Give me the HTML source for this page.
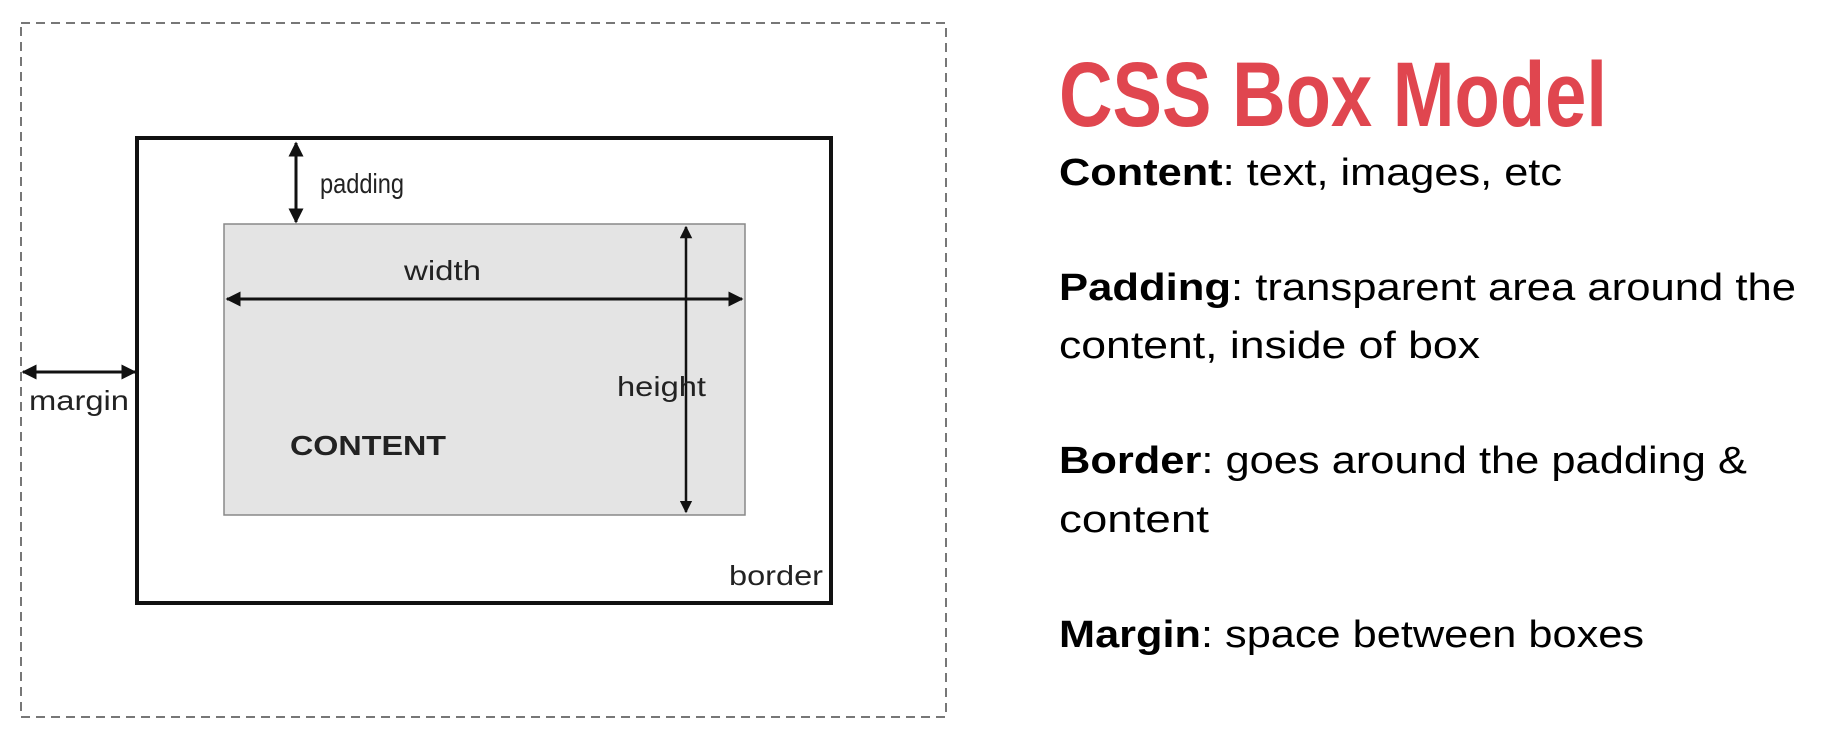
<!DOCTYPE html>
<html><head><meta charset="utf-8"><style>html,body{margin:0;padding:0;background:#fff;width:1835px;height:740px;overflow:hidden}</style></head>
<body>
<svg width="1835" height="740" xmlns="http://www.w3.org/2000/svg">
<defs>
<marker id="a" viewBox="0 0 10 10" refX="9" refY="5" markerWidth="5" markerHeight="5" orient="auto-start-reverse"><path d="M0,0 L10,5 L0,10 z" fill="#111"/></marker>
</defs>
<rect x="21" y="23" width="925" height="694" fill="none" stroke="#777" stroke-width="2" stroke-dasharray="9,6"/>
<rect x="137" y="138" width="694" height="465" fill="none" stroke="#111" stroke-width="4"/>
<rect x="224" y="224" width="521" height="291" fill="#e4e4e4" stroke="#888" stroke-width="1.5"/>
<g stroke="#111" stroke-width="3" fill="none">
<line x1="296" y1="143" x2="296" y2="222" marker-start="url(#a)" marker-end="url(#a)"/>
<line x1="227" y1="299" x2="742" y2="299" marker-start="url(#a)" marker-end="url(#a)"/>
<line x1="686" y1="227" x2="686" y2="512" stroke-width="2.5" marker-start="url(#a)" marker-end="url(#a)"/>
<line x1="23" y1="372" x2="135" y2="372" marker-start="url(#a)" marker-end="url(#a)"/>
</g>
<g font-family="Liberation Sans, sans-serif" font-size="28" fill="#222" lengthAdjust="spacingAndGlyphs">
<text x="320" y="193" textLength="84" lengthAdjust="spacingAndGlyphs">padding</text>
<text x="404" y="280" textLength="77" lengthAdjust="spacingAndGlyphs">width</text>
<text x="617" y="396" textLength="89" lengthAdjust="spacingAndGlyphs">height</text>
<text x="29" y="410" textLength="100" lengthAdjust="spacingAndGlyphs">margin</text>
<text x="729" y="585" textLength="94" lengthAdjust="spacingAndGlyphs">border</text>
<text x="290" y="455" font-weight="bold" textLength="156" lengthAdjust="spacingAndGlyphs">CONTENT</text>
</g>
<text x="1059" y="126" font-family="Liberation Sans, sans-serif" font-weight="bold" font-size="92" fill="#e0464f" textLength="548" lengthAdjust="spacingAndGlyphs">CSS Box Model</text>
<g font-family="Liberation Sans, sans-serif" font-size="38" fill="#000">
<text x="1059" y="185" textLength="503" lengthAdjust="spacingAndGlyphs"><tspan font-weight="bold">Content</tspan>: text, images, etc</text>
<text x="1059" y="300" textLength="737" lengthAdjust="spacingAndGlyphs"><tspan font-weight="bold">Padding</tspan>: transparent area around the</text>
<text x="1059" y="358" textLength="421" lengthAdjust="spacingAndGlyphs">content, inside of box</text>
<text x="1059" y="473" textLength="688" lengthAdjust="spacingAndGlyphs"><tspan font-weight="bold">Border</tspan>: goes around the padding &amp;</text>
<text x="1059" y="532" textLength="150" lengthAdjust="spacingAndGlyphs">content</text>
<text x="1059" y="647" textLength="585" lengthAdjust="spacingAndGlyphs"><tspan font-weight="bold">Margin</tspan>: space between boxes</text>
</g>
</svg>
</body></html>
